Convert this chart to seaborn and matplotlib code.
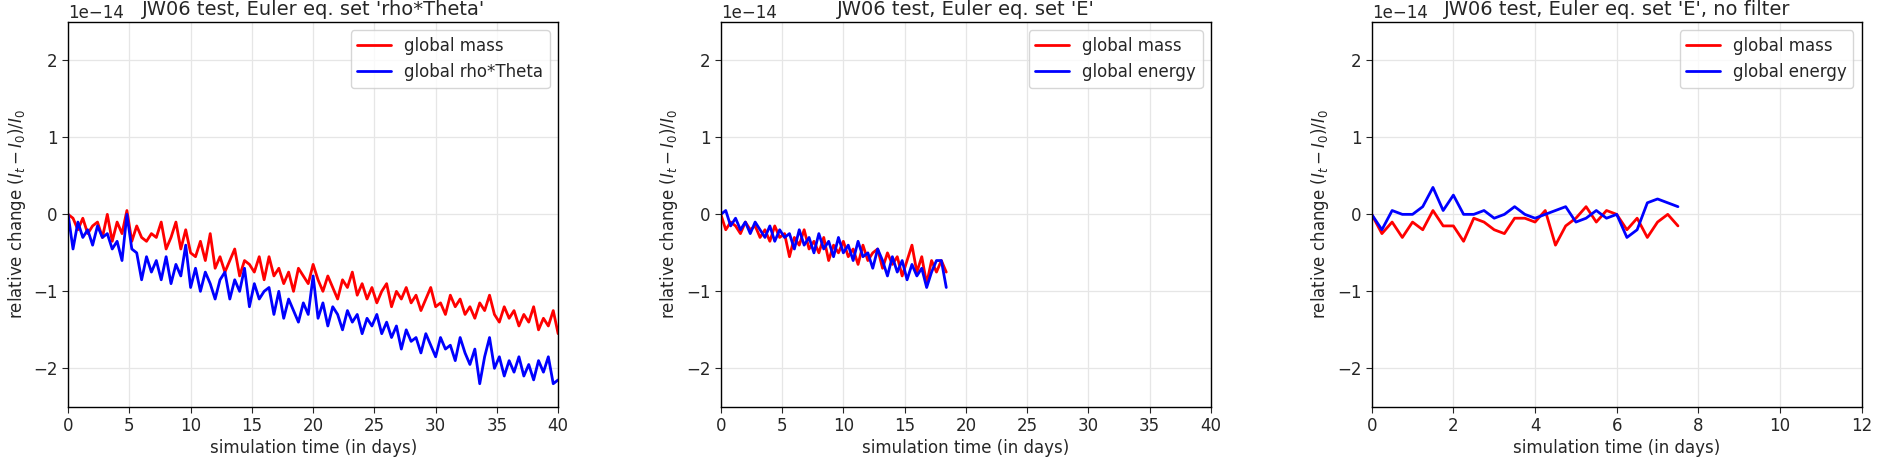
import numpy as np
import matplotlib
matplotlib.use("Agg")
import matplotlib.pyplot as plt
import seaborn as sns

# values in units of 1e-14
p1_mass = [0, -0.05, -0.2, -0.05, -0.25, -0.15, -0.1, -0.3, 0.0, -0.35, -0.1,
           -0.25, 0.05, -0.35, -0.15, -0.3, -0.35, -0.25, -0.3, -0.1, -0.45,
           -0.3, -0.1, -0.45, -0.2, -0.5, -0.55, -0.35, -0.6, -0.25, -0.7,
           -0.55, -0.75, -0.6, -0.45, -0.8, -0.6, -0.65, -0.75, -0.55, -0.85,
           -0.55, -0.8, -0.7, -0.9, -0.75, -1.0, -0.7, -0.8, -0.9, -0.65,
           -0.85, -1.0, -0.8, -0.95, -1.1, -0.85, -0.95, -0.75, -1.05, -0.9,
           -1.1, -0.95, -1.15, -1.0, -0.9, -1.2, -1.0, -1.1, -0.95, -1.15,
           -1.05, -1.25, -1.1, -0.95, -1.2, -1.15, -1.3, -1.05, -1.2, -1.1,
           -1.3, -1.2, -1.35, -1.15, -1.25, -1.05, -1.3, -1.4, -1.2, -1.35,
           -1.25, -1.45, -1.3, -1.4, -1.2, -1.5, -1.35, -1.45, -1.25, -1.55]
p1_theta = [0, -0.45, -0.1, -0.3, -0.2, -0.4, -0.15, -0.3, -0.25, -0.45, -0.35,
            -0.6, 0.0, -0.45, -0.5, -0.85, -0.55, -0.75, -0.6, -0.85, -0.55,
            -0.9, -0.65, -0.8, -0.4, -0.95, -0.7, -1.0, -0.75, -0.9, -1.1,
            -0.85, -0.75, -1.1, -0.85, -1.0, -0.7, -1.2, -0.9, -1.1, -1.0,
            -0.95, -1.3, -1.0, -1.35, -1.1, -1.25, -1.4, -1.15, -1.3, -0.8,
            -1.35, -1.15, -1.45, -1.2, -1.3, -1.5, -1.25, -1.4, -1.3, -1.55,
            -1.35, -1.45, -1.3, -1.55, -1.4, -1.6, -1.45, -1.75, -1.5, -1.65,
            -1.6, -1.8, -1.55, -1.7, -1.85, -1.6, -1.75, -1.7, -1.9, -1.6,
            -1.8, -1.95, -1.75, -2.2, -1.85, -1.6, -2.0, -1.85, -2.1, -1.9,
            -2.05, -1.85, -2.1, -1.95, -2.15, -1.9, -2.05, -1.85, -2.2, -2.15]
p2_mass = [0, -0.2, -0.1, -0.15, -0.25, -0.1, -0.2, -0.15, -0.3, -0.2,
           -0.35, -0.15, -0.3, -0.25, -0.55, -0.3, -0.4, -0.2, -0.45, -0.35,
           -0.5, -0.3, -0.6, -0.4, -0.5, -0.35, -0.55, -0.45, -0.65, -0.4,
           -0.6, -0.5, -0.45, -0.7, -0.5, -0.65, -0.55, -0.8, -0.6, -0.4,
           -0.75, -0.55, -0.9, -0.6, -0.75, -0.6, -0.75]
p2_energy = [0, 0.05, -0.15, -0.05, -0.2, -0.1, -0.25, -0.1, -0.2, -0.3,
             -0.15, -0.35, -0.2, -0.3, -0.25, -0.45, -0.2, -0.4, -0.3, -0.5,
             -0.25, -0.45, -0.35, -0.55, -0.3, -0.5, -0.4, -0.6, -0.35, -0.55,
             -0.5, -0.7, -0.45, -0.6, -0.8, -0.55, -0.75, -0.6, -0.85, -0.65,
             -0.8, -0.7, -0.95, -0.75, -0.6, -0.6, -0.95]
p3_mass = [0, -0.25, -0.1, -0.3, -0.1, -0.2, 0.05, -0.15, -0.15, -0.35, -0.05,
           -0.1, -0.2, -0.25, -0.05, -0.05, -0.1, 0.05, -0.4, -0.15, -0.05,
           0.1, -0.1, 0.05, 0.0, -0.2, -0.05, -0.3, -0.1, 0.0, -0.15]
p3_energy = [0, -0.2, 0.05, 0.0, 0.0, 0.1, 0.35, 0.05, 0.25, 0.0, 0.0,
             0.05, -0.05, 0.0, 0.1, 0.0, -0.05, 0.0, 0.05, 0.1, -0.1,
             -0.05, 0.05, -0.05, 0.0, -0.3, -0.2, 0.15, 0.2, 0.15, 0.1]

panels = [
    ("JW06 test, Euler eq. set 'rho*Theta'", 40.0, p1_mass, p1_theta, "global rho*Theta", 40, 5),
    ("JW06 test, Euler eq. set 'E'", 18.4, p2_mass, p2_energy, "global energy", 40, 5),
    ("JW06 test, Euler eq. set 'E', no filter", 7.5, p3_mass, p3_energy, "global energy", 12, 2),
]

sns.set_style("white")
plt.rcParams["font.family"] = ["DejaVu Sans"]
fig = plt.figure(figsize=(18.92, 4.66), dpi=100)
lefts = [0.036, 0.381, 0.725]
for left, (title, tend, m, e, lab, xmax, xstep) in zip(lefts, panels):
    ax = fig.add_axes([left, 0.127, 0.259, 0.826])
    t = np.linspace(0, tend, len(m))
    sns.lineplot(x=t, y=np.array(m) * 1e-14, color="red", label="global mass", ax=ax, lw=2)
    sns.lineplot(x=t, y=np.array(e) * 1e-14, color="blue", label=lab, ax=ax, lw=2)
    ax.set_xlim(0, xmax)
    ax.set_ylim(-2.5e-14, 2.5e-14)
    ax.set_xticks(np.arange(0, xmax + 0.1, xstep))
    ax.set_yticks(np.arange(-2, 3) * 1e-14)
    ax.grid(True, color="#e6e6e6", lw=0.9)
    for s in ax.spines.values():
        s.set_color("black")
        s.set_linewidth(1.0)
    ax.tick_params(labelsize=12, length=4, direction="out", left=True, bottom=True)
    ax.yaxis.get_offset_text().set_fontsize(12)
    ax.set_title(title, fontsize=14, pad=5)
    ax.set_xlabel("simulation time (in days)", fontsize=12, labelpad=3)
    ax.set_ylabel(r"relative change $(I_t - I_0)/I_0$", fontsize=12)
    ax.legend(loc="upper right", fontsize=12, frameon=True, handlelength=2)

fig.savefig("out.png", dpi=100)
